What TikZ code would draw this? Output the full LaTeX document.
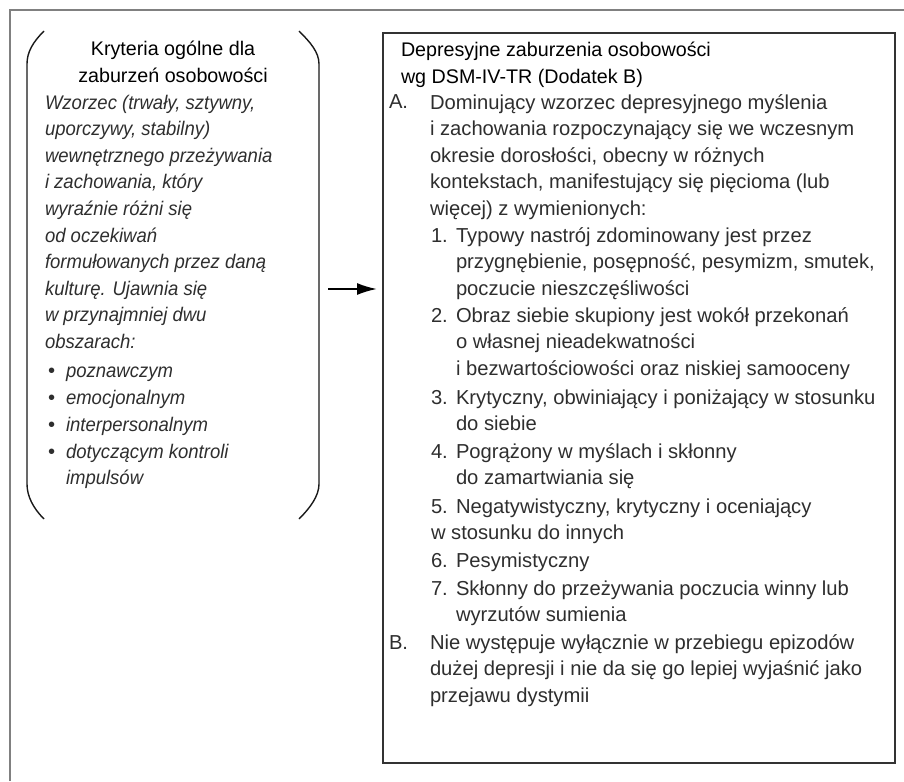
\documentclass[tikz,border=0pt]{standalone}
\usepackage{fontspec}
\setmainfont{Liberation Sans}
\newfontfamily\narrowit{Liberation Sans}[FakeStretch=0.94]
\usetikzlibrary{arrows.meta}
\begin{document}
\begin{tikzpicture}[x=1pt,y=-1pt,
  body/.style={anchor=base west, inner sep=0pt, outer sep=0pt, align=left,
               font=\fontsize{20.2}{26.6}\selectfont, text=black!82},
  titlest/.style={body, font=\fontsize{19.7}{26.6}\selectfont, text=black},
  ibody/.style={body, font=\fontsize{19.7}{26.6}\selectfont\narrowit\itshape},
  frameline/.style={draw=black!50, line width=2pt},
  paren/.style={draw=black!90, line width=1.4pt},
  boxst/.style={draw=black!80, line width=1.6pt},
  arr/.style={-{Latex[length=20pt,width=12pt]}, line width=2pt, draw=black}]
\useasboundingbox (0,0) rectangle (904,781);
% outer frame (open at right and bottom)
\draw[frameline] (10,781) -- (10,10) -- (904,10);

% left region
\node[inner sep=0pt, minimum width=292pt, minimum height=488pt, anchor=north west] (lbox) at (27,31) {};
\draw[paren] (44,31) .. controls (33,42) and (27,52) .. (27,64) -- (27,484)
  .. controls (27,496) and (33,508) .. (44,519);
\draw[paren] (299,31) .. controls (310,42) and (319,52) .. (319,64) -- (319,484)
  .. controls (319,496) and (310,508) .. (299,519);

% multi-line nodes are placed at the baseline of their last line
\node[titlest, anchor=base, align=center] (ltitle) at (173,82.6) {Kryteria ogólne dla\\zaburzeń osobowości};
\node[ibody] (lpara) at (45,348.4) {Wzorzec (trwały, sztywny,\\
uporczywy, stabilny)\\
wewnętrznego przeżywania\\
i zachowania, który\\
wyraźnie różni się\\
od oczekiwań\\
formułowanych przez daną\\
kulturę. Ujawnia się\\
w przynajmniej dwu\\
obszarach:};
\node[body] (b1) at (48,377) {\textbullet};
\node[ibody] (l1) at (66,377) {poznawczym};
\node[body] (b2) at (48,404) {\textbullet};
\node[ibody] (l2) at (66,404) {emocjonalnym};
\node[body] (b3) at (48,431) {\textbullet};
\node[ibody] (l3) at (66,431) {interpersonalnym};
\node[body] (b4) at (48,458) {\textbullet};
\node[ibody] (l4) at (66,484.6) {dotyczącym kontroli\\impulsów};

% right box
\node[boxst, inner sep=0pt, minimum width=512pt, minimum height=730pt, anchor=north west] (rbox) at (382,32) {};

% arrow
\coordinate (as) at (328,289);
\coordinate (ae) at (377,289);
\draw[arr] (as) -- (ae);

\node[titlest] (rtitle) at (401,83.6) {Depresyjne zaburzenia osobowości\\wg DSM-IV-TR (Dodatek B)};
\node[body] (nA) at (389,109) {A.};
\node[body] (tA) at (430,215.4) {Dominujący wzorzec depresyjnego myślenia\\
i zachowania rozpoczynający się we wczesnym\\
okresie dorosłości, obecny w różnych\\
kontekstach, manifestujący się pięcioma (lub\\
więcej) z wymienionych:};
\node[body] (n1) at (431,242) {1.};
\node[body] (t1) at (456,295.2) {Typowy nastrój zdominowany jest przez\\
przygnębienie, posępność, pesymizm, smutek,\\
poczucie nieszczęśliwości};
\node[body] (n2) at (431,322) {2.};
\node[body] (t2) at (456,375.2) {Obraz siebie skupiony jest wokół przekonań\\
o własnej nieadekwatności\\
i bezwartościowości oraz niskiej samooceny};
\node[body] (n3) at (431,404) {3.};
\node[body] (t3) at (456,430.6) {Krytyczny, obwiniający i poniżający w stosunku\\
do siebie};
\node[body] (n4) at (431,458) {4.};
\node[body] (t4) at (456,484.6) {Pogrążony w myślach i skłonny\\
do zamartwiania się};
\node[body] (n5) at (431,513) {5.};
\node[body] (t5) at (456,513) {Negatywistyczny, krytyczny i oceniający};
\node[body] (t5b) at (431,539.6) {w stosunku do innych};
\node[body] (n6) at (431,567) {6.};
\node[body] (t6) at (456,567) {Pesymistyczny};
\node[body] (n7) at (431,595) {7.};
\node[body] (t7) at (456,621.6) {Skłonny do przeżywania poczucia winny lub\\
wyrzutów sumienia};
\node[body] (nB) at (389,649) {B.};
\node[body] (tB) at (430,702.2) {Nie występuje wyłącznie w przebiegu epizodów\\
dużej depresji i nie da się go lepiej wyjaśnić jako\\
przejawu dystymii};
\end{tikzpicture}
\end{document}
